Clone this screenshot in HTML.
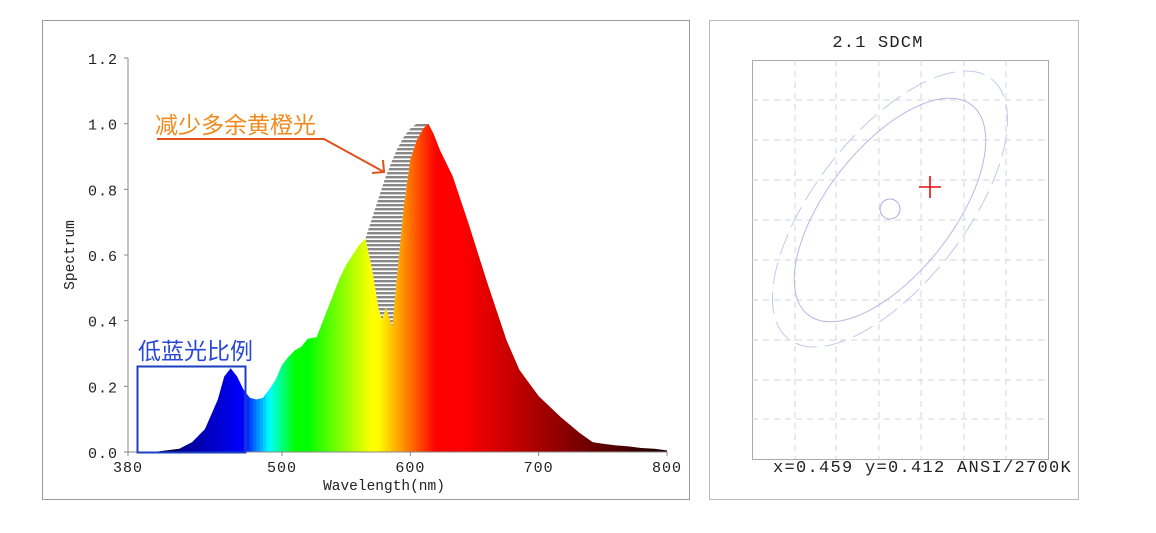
<!DOCTYPE html>
<html><head><meta charset="utf-8"><style>
html,body{margin:0;padding:0;background:#fff;width:1156px;height:533px;overflow:hidden}
svg{display:block}
text{font-family:"Liberation Mono",monospace;fill:#222}
.cjk{font-family:"Liberation Sans","Noto Sans CJK SC",sans-serif}
</style></head><body>
<svg id="svg" width="1156" height="533" xmlns="http://www.w3.org/2000/svg">
<defs>
<pattern id="hatch" width="4" height="4" patternUnits="userSpaceOnUse"><rect width="4" height="4" fill="#fff"/><rect width="4" height="2.4" fill="#888"/></pattern>
<clipPath id="specClip"><path id="specClipPath" d=""/></clipPath>
</defs>
<rect x="42.5" y="20.5" width="647" height="479" fill="#fff" stroke="#999"/>
<rect x="709.5" y="20.5" width="369" height="479" fill="#fff" stroke="#bbb"/>
<g id="spec"></g>
<g id="sdcm"></g>
</svg>
<script>
// ---- spectrum data ----
const wavelengths=[380,400,420,430,440,450,455,460,465,470,475,480,485,490,495,500,505,510,515,520,527,530,535,540,545,550,555,560,565,570,575,578,581,586,590,595,600,605,610,614,618,623,633,645,660,675,685,700,717,732,742,750,760,770,780,790,800];
const spectrumValues=[0,0,0.01,0.03,0.07,0.16,0.23,0.255,0.23,0.19,0.165,0.16,0.165,0.19,0.22,0.265,0.29,0.31,0.32,0.345,0.35,0.38,0.43,0.48,0.53,0.57,0.60,0.63,0.65,0.56,0.44,0.40,0.44,0.38,0.55,0.75,0.89,0.95,0.985,1.0,0.97,0.92,0.84,0.70,0.515,0.34,0.25,0.17,0.107,0.058,0.03,0.025,0.02,0.017,0.012,0.01,0.005];
const excessWavelengths=[565,570,575,580,585,590,595,600,605,610,614];
const excessValues=[0.65,0.71,0.77,0.83,0.88,0.925,0.96,0.985,1.0,1.0,1.0];
const yTicks=[0,0.2,0.4,0.6,0.8,1.0,1.2];
const yTickLabels=["0.0","0.2","0.4","0.6","0.8","1.0","1.2"];
const xTicks=[380,500,600,700,800];
const xTickLabels=["380","500","600","700","800"];
// ---- sdcm data ----
const chromaX=[0.459];
const chromaY=[0.412];
const sdcmLabel="2.1 SDCM";

const NS="http://www.w3.org/2000/svg";
function mk(tag,attrs,parent,txt){const e=document.createElementNS(NS,tag);for(const k in attrs)e.setAttribute(k,attrs[k]);if(txt!==undefined)e.textContent=txt;parent.appendChild(e);return e;}
const X0=128,X1=667,Y0=452,Y1=58;
const sx=w=>X0+(w-380)/420*(X1-X0);
const sy=v=>Y0-v/1.2*(Y0-Y1);
function interp(w){for(let i=0;i<wavelengths.length-1;i++){if(w>=wavelengths[i]&&w<=wavelengths[i+1]){const t=(w-wavelengths[i])/(wavelengths[i+1]-wavelengths[i]);return spectrumValues[i]+t*(spectrumValues[i+1]-spectrumValues[i]);}}return 0;}
const cl=v=>Math.max(0,Math.min(1,v));
function wlColor(w){
 let r=w<520?0:cl((w-520)/50);
 let g=w<575?cl((w-470)/20):cl(1-(w-575)/45);
 let b=w<490?1:cl(1-(w-490)/20);
 let f=1;
 if(w<420)f=0.35;else if(w<465)f=0.55+0.4*(w-420)/45;
 if(w>640)f=Math.max(0.04,1-(w-640)/175);
 return `rgb(${Math.round(255*r*f)},${Math.round(255*g*f)},${Math.round(255*b*f)})`;}
const spec=document.getElementById('spec');
let d=`M${sx(wavelengths[0])},${sy(0)}`;
wavelengths.forEach((w,i)=>{d+=` L${sx(w)},${sy(spectrumValues[i])}`;});
d+=` L${sx(800)},${sy(0)} Z`;
document.getElementById('specClipPath').setAttribute('d',d);
let hd=`M${sx(excessWavelengths[0])},${sy(excessValues[0])}`;
excessWavelengths.forEach((w,i)=>{hd+=` L${sx(w)},${sy(excessValues[i])}`;});
for(let w=excessWavelengths[excessWavelengths.length-1];w>=excessWavelengths[0];w-=1){hd+=` L${sx(w)},${sy(interp(w))}`;}
hd+=' Z';
const hatch=mk('path',{d:hd,fill:'url(#hatch)'},spec);


const strips=mk('g',{'clip-path':'url(#specClip)'},spec);


for(let w=380;w<800;w+=2.5){mk('rect',{x:sx(w),y:Y1,width:sx(w+2.5)-sx(w)+0.4,height:Y0-Y1,fill:wlColor(w+1.25)},strips);}
const ax=mk('path',{d:`M${X0},${Y1} L${X0},${Y0} L${X1},${Y0}`,stroke:'#888',fill:'none','stroke-width':1},spec);


yTicks.forEach((t,i)=>{mk('line',{x1:X0-4,x2:X0,y1:sy(t),y2:sy(t),stroke:'#888'},spec);
 const l=mk('text',{x:X0-10,y:sy(t)+6,'text-anchor':'end','font-size':15,'letter-spacing':1},spec,yTickLabels[i]);
 
 });
xTicks.forEach((t,i)=>{mk('line',{x1:sx(t),x2:sx(t),y1:Y0,y2:Y0+4,stroke:'#888'},spec);
 const l=mk('text',{x:sx(t),y:Y0+20,'text-anchor':'middle','font-size':15,'letter-spacing':1},spec,xTickLabels[i]);
 
 });
const xt=mk('text',{x:384,y:490,'text-anchor':'middle','font-size':14.5},spec,'Wavelength(nm)');


const yt=mk('text',{x:0,y:0,transform:'translate(74,255) rotate(-90)','text-anchor':'middle','font-size':14.5},spec,'Spectrum');


const bb=mk('rect',{x:137.5,y:366.5,width:108,height:86,fill:'none',stroke:'#1a3fbf','stroke-width':2},spec);


const bt=mk('text',{x:138,y:359,'font-size':23,class:'cjk',style:'fill:#2a48d8'},spec,'低蓝光比例');


const ot=mk('text',{x:155,y:133,'font-size':23,class:'cjk',style:'fill:#f08a1c'},spec,'减少多余黄橙光');


const ar=mk('path',{d:'M157,139 L324,139 L384,172 M372,173 L384,172 L383,160',stroke:'#e0501a','stroke-width':2,fill:'none'},spec);



// ---- SDCM panel ----
const sd=document.getElementById('sdcm');
const PX0=752,PX1=1048,PY0=60,PY1=459;
const pb=mk('rect',{x:PX0+0.5,y:PY0+0.5,width:PX1-PX0,height:PY1-PY0,fill:'none',stroke:'#aaa'},sd);


[795,836,879,921,964,1006].forEach(x=>mk('line',{x1:x,x2:x,y1:PY0,y2:PY1,stroke:'#d4d4dc','stroke-dasharray':'6,5'},sd));
[100,140,180,220,260,300,340,380,419].forEach(y=>mk('line',{x1:PX0,x2:PX1,y1:y,y2:y,stroke:'#d4d4dc','stroke-dasharray':'6,5'},sd));
const e2=mk('ellipse',{cx:890,cy:209,rx:165,ry:75,transform:'rotate(-52 890 209)',fill:'none',stroke:'#c4c8ec','stroke-dasharray':'22,8'},sd);


const e1=mk('ellipse',{cx:890,cy:210,rx:133,ry:63,transform:'rotate(-52 890 210)',fill:'none',stroke:'#b4bae8'},sd);


const c0=mk('circle',{cx:890,cy:209,r:10,fill:'none',stroke:'#a8aee0'},sd);


const px=930+(chromaX[0]-0.459)*2000, py=187-(chromaY[0]-0.412)*2000;
const pl=mk('path',{d:`M${px-11},${py} L${px+11},${py} M${px},${py-11} L${px},${py+11}`,stroke:'#e01010','stroke-width':1.6},sd);


const st=mk('text',{x:878,y:47,'text-anchor':'middle','font-size':17,'letter-spacing':1.2},sd,sdcmLabel);


const ct=mk('text',{x:773,y:472,'font-size':17,'letter-spacing':1.3},sd,`x=${chromaX[0].toFixed(3)} y=${chromaY[0].toFixed(3)} ANSI/2700K`);


</script>
</body></html>
